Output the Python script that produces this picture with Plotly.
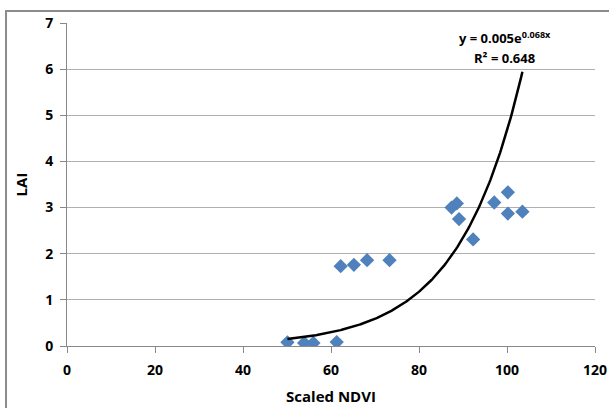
import numpy as np
import plotly.graph_objects as go

ndvi = [50.1, 53.9, 56.0, 61.3, 62.2, 65.2, 68.2, 73.3, 87.4, 88.6, 89.1, 92.3, 97.1, 100.2, 100.2, 103.5]
lai = [0.08, 0.065, 0.065, 0.085, 1.73, 1.76, 1.86, 1.86, 3.0, 3.09, 2.75, 2.31, 3.11, 3.33, 2.87, 2.91]

x_ticks = [0, 20, 40, 60, 80, 100, 120]
y_ticks = [0, 1, 2, 3, 4, 5, 6, 7]

eq_text = "y = 0.005e<sup>0.068x</sup>"
r2_text = "R² = 0.648"

# exponential trendline (least squares on log y, as Excel does)
xa = np.array(ndvi)
ya = np.array(lai)
b, ln_a = np.polyfit(xa, np.log(ya), 1)
xt = np.linspace(xa.min(), xa.max(), 200)
yt = np.exp(ln_a) * np.exp(b * xt)

font_family = "Open Sans"

fig = go.Figure()
fig.add_trace(go.Scatter(x=ndvi, y=lai, mode="markers",
                         marker=dict(symbol="diamond", size=11, color="#4F81BD",
                                     line=dict(width=0)),
                         showlegend=False))
fig.add_trace(go.Scatter(x=xt, y=yt, mode="lines",
                         line=dict(color="black", width=2.5), showlegend=False))

fig.update_layout(
    width=609, height=408,
    margin=dict(l=67, r=14, t=23, b=62),
    paper_bgcolor="white", plot_bgcolor="white",
    font=dict(family=font_family, size=13, color="black"),
    xaxis=dict(range=[0, 120], tickvals=x_ticks, showgrid=False, automargin=False,
               showline=True, linecolor="#888888", linewidth=1,
               ticks="outside", ticklen=6, tickcolor="#888888",
               tickfont=dict(family=font_family, size=14, color="black", weight="bold"),
               ticklabelstandoff=5, zeroline=False,
               title=dict(text="<b>Scaled NDVI</b>", standoff=13,
                          font=dict(size=15))),
    yaxis=dict(range=[0, 7], tickvals=y_ticks, showgrid=True, automargin=False,
               gridcolor="#B0B0B0", gridwidth=1,
               showline=True, linecolor="#888888", linewidth=1,
               ticks="outside", ticklen=6, tickcolor="#888888",
               tickfont=dict(family=font_family, size=14, color="black", weight="bold"),
               ticklabelstandoff=4, zeroline=False,
               title=dict(text="<b>LAI</b>", standoff=13, font=dict(size=15))),
    shapes=[dict(type="rect", xref="paper", yref="paper",
                 x0=-0.1155, x1=1.04, y0=-0.22, y1=1.037,
                 line=dict(color="#8C8C8C", width=2), layer="above")],
    annotations=[
        dict(text="<b>" + eq_text + "</b>", x=99.5, y=6.68, xref="x", yref="y",
             showarrow=False, font=dict(size=13)),
        dict(text="<b>" + r2_text + "</b>", x=99.5, y=6.25, xref="x", yref="y",
             showarrow=False, font=dict(size=13)),
    ],
)

fig.write_html("out.html")
